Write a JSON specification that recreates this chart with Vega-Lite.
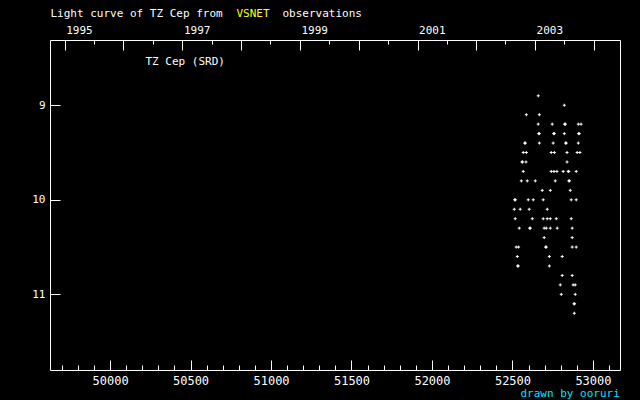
{
  "$schema": "https://vega.github.io/schema/vega-lite/v6.json",
  "width": 570,
  "height": 330,
  "autosize": "none",
  "padding": {"left": 50, "top": 40, "right": 20, "bottom": 30},
  "background": "black",
  "config": {
    "view": {"stroke": "white", "strokeWidth": 1},
    "axis": {
      "grid": false,
      "domain": false,
      "labelColor": "white",
      "tickColor": "white",
      "tickWidth": 1,
      "labelFont": "DejaVu Sans Mono",
      "labelFontSize": 11,
      "titleFont": "DejaVu Sans Mono",
      "titleFontSize": 11,
      "titleFontWeight": "normal",
      "titleColor": "white",
      "labelFlush": false,
      "labelOverlap": false,
      "labelBound": false
    }
  },
  "data": {
    "values": [
      {"jd": 52660, "mag": 8.9},
      {"jd": 52822, "mag": 9.0},
      {"jd": 52586, "mag": 9.1}, {"jd": 52667, "mag": 9.1},
      {"jd": 52660, "mag": 9.2}, {"jd": 52747, "mag": 9.2}, {"jd": 52823, "mag": 9.2}, {"jd": 52829, "mag": 9.2}, {"jd": 52909, "mag": 9.2}, {"jd": 52926, "mag": 9.2},
      {"jd": 52663, "mag": 9.3}, {"jd": 52667, "mag": 9.3}, {"jd": 52756, "mag": 9.3}, {"jd": 52760, "mag": 9.3}, {"jd": 52822, "mag": 9.3}, {"jd": 52911, "mag": 9.3}, {"jd": 52915, "mag": 9.3},
      {"jd": 52576, "mag": 9.4}, {"jd": 52580, "mag": 9.4}, {"jd": 52667, "mag": 9.4}, {"jd": 52753, "mag": 9.4}, {"jd": 52830, "mag": 9.4}, {"jd": 52834, "mag": 9.4}, {"jd": 52909, "mag": 9.4},
      {"jd": 52567, "mag": 9.5}, {"jd": 52586, "mag": 9.5}, {"jd": 52741, "mag": 9.5}, {"jd": 52760, "mag": 9.5}, {"jd": 52839, "mag": 9.5}, {"jd": 52902, "mag": 9.5}, {"jd": 52919, "mag": 9.5},
      {"jd": 52559, "mag": 9.6}, {"jd": 52563, "mag": 9.6}, {"jd": 52584, "mag": 9.6}, {"jd": 52839, "mag": 9.6},
      {"jd": 52567, "mag": 9.7}, {"jd": 52741, "mag": 9.7}, {"jd": 52758, "mag": 9.7}, {"jd": 52776, "mag": 9.7}, {"jd": 52815, "mag": 9.7}, {"jd": 52846, "mag": 9.7}, {"jd": 52850, "mag": 9.7}, {"jd": 52896, "mag": 9.7},
      {"jd": 52555, "mag": 9.8}, {"jd": 52592, "mag": 9.8}, {"jd": 52642, "mag": 9.8}, {"jd": 52766, "mag": 9.8}, {"jd": 52850, "mag": 9.8}, {"jd": 52854, "mag": 9.8},
      {"jd": 52685, "mag": 9.9}, {"jd": 52735, "mag": 9.9}, {"jd": 52859, "mag": 9.9},
      {"jd": 52514, "mag": 10.0}, {"jd": 52518, "mag": 10.0}, {"jd": 52598, "mag": 10.0}, {"jd": 52629, "mag": 10.0}, {"jd": 52691, "mag": 10.0}, {"jd": 52865, "mag": 10.0}, {"jd": 52896, "mag": 10.0},
      {"jd": 52511, "mag": 10.1}, {"jd": 52548, "mag": 10.1}, {"jd": 52604, "mag": 10.1}, {"jd": 52716, "mag": 10.1},
      {"jd": 52517, "mag": 10.2}, {"jd": 52623, "mag": 10.2}, {"jd": 52691, "mag": 10.2}, {"jd": 52716, "mag": 10.2}, {"jd": 52735, "mag": 10.2}, {"jd": 52772, "mag": 10.2}, {"jd": 52865, "mag": 10.2},
      {"jd": 52542, "mag": 10.3}, {"jd": 52607, "mag": 10.3}, {"jd": 52611, "mag": 10.3}, {"jd": 52697, "mag": 10.3}, {"jd": 52710, "mag": 10.3}, {"jd": 52735, "mag": 10.3}, {"jd": 52778, "mag": 10.3}, {"jd": 52871, "mag": 10.3},
      {"jd": 52697, "mag": 10.4}, {"jd": 52871, "mag": 10.4},
      {"jd": 52523, "mag": 10.5}, {"jd": 52538, "mag": 10.5}, {"jd": 52706, "mag": 10.5}, {"jd": 52710, "mag": 10.5}, {"jd": 52871, "mag": 10.5}, {"jd": 52896, "mag": 10.5},
      {"jd": 52530, "mag": 10.6}, {"jd": 52729, "mag": 10.6}, {"jd": 52809, "mag": 10.6},
      {"jd": 52532, "mag": 10.7}, {"jd": 52536, "mag": 10.7}, {"jd": 52729, "mag": 10.7},
      {"jd": 52809, "mag": 10.8}, {"jd": 52871, "mag": 10.8},
      {"jd": 52797, "mag": 10.9}, {"jd": 52877, "mag": 10.9}, {"jd": 52890, "mag": 10.9},
      {"jd": 52803, "mag": 11.0}, {"jd": 52890, "mag": 11.0},
      {"jd": 52882, "mag": 11.1}, {"jd": 52886, "mag": 11.1},
      {"jd": 52884, "mag": 11.2}
    ]
  },
  "resolve": {"axis": {"x": "independent"}},
  "layer": [
    {
      "mark": {"type": "point", "shape": "M-1,0H1M0,-1V1", "filled": false, "stroke": "white", "strokeWidth": 1, "size": 9, "opacity": 1},
      "encoding": {
        "x": {
          "field": "jd", "type": "quantitative",
          "scale": {"domain": [49627, 53168], "nice": false, "zero": false},
          "axis": {
            "orient": "bottom",
            "values": [50000, 50500, 51000, 51500, 52000, 52500, 53000],
            "format": "d",
            "labelFontSize": 12,
            "tickSize": -10,
            "labelPadding": 24,
            "labelBaseline": "alphabetic",
            "title": "drawn by ooruri",
            "titleColor": "#00e0ff",
            "titleX": 470,
            "titleY": 26,
            "titleAlign": "left",
            "titleBaseline": "alphabetic",
            "titleAngle": 0
          }
        },
        "y": {
          "field": "mag", "type": "quantitative",
          "scale": {"domain": [8.31, 11.8], "reverse": true, "nice": false, "zero": false},
          "axis": {
            "values": [9, 10, 11],
            "format": "d",
            "tickSize": -10,
            "labelPadding": 15,
            "title": "TZ Cep (SRD)",
            "titleAngle": 0,
            "titleX": 95,
            "titleY": 24,
            "titleAlign": "left",
            "titleBaseline": "alphabetic"
          }
        }
      }
    },
    {
      "mark": {"type": "point", "opacity": 0},
      "encoding": {
        "x": {
          "field": "jd", "type": "quantitative",
          "axis": {
            "orient": "bottom",
            "values": [49700, 49800, 49900, 50000, 50100, 50200, 50300, 50400, 50500, 50600, 50700, 50800, 50900, 51000, 51100, 51200, 51300, 51400, 51500, 51600, 51700, 51800, 51900, 52000, 52100, 52200, 52300, 52400, 52500, 52600, 52700, 52800, 52900, 53000, 53100],
            "tickSize": -5,
            "labels": false,
            "title": null
          }
        }
      }
    },
    {
      "mark": {"type": "point", "opacity": 0},
      "encoding": {
        "x": {
          "field": "jd", "type": "quantitative",
          "axis": {
            "orient": "top",
            "values": [49718.5, 50083.5, 50449.5, 50814.5, 51179.5, 51544.5, 51910.5, 52275.5, 52640.5, 53005.5],
            "labelExpr": "(floor((datum.value-49718.5)/365.25+0.5)+1995) % 2 == 1 ? '' + (floor((datum.value-49718.5)/365.25+0.5)+1995) : ''",
            "tickSize": -10,
            "labelPadding": 17,
            "labelAlign": "left",
            "labelBaseline": "alphabetic",
            "labelOffset": 1,
            "title": "Light curve of TZ Cep from",
            "titleX": 0,
            "titleY": -24,
            "titleAlign": "left",
            "titleBaseline": "alphabetic"
          }
        }
      }
    },
    {
      "mark": {"type": "point", "opacity": 0},
      "encoding": {
        "x": {
          "field": "jd", "type": "quantitative",
          "axis": {
            "orient": "top",
            "values": [49899.5, 50265.5, 50630.5, 50995.5, 51360.5, 51726.5, 52091.5, 52456.5, 52821.5],
            "tickSize": -4,
            "labels": false,
            "title": "VSNET",
            "titleColor": "#ffff00",
            "titleX": 186,
            "titleY": -24,
            "titleAlign": "left",
            "titleBaseline": "alphabetic"
          }
        }
      }
    },
    {
      "mark": {"type": "point", "opacity": 0},
      "encoding": {
        "x": {
          "field": "jd", "type": "quantitative",
          "axis": {
            "orient": "top",
            "values": [],
            "ticks": false,
            "labels": false,
            "title": "observations",
            "titleX": 232,
            "titleY": -24,
            "titleAlign": "left",
            "titleBaseline": "alphabetic"
          }
        }
      }
    }
  ]
}
